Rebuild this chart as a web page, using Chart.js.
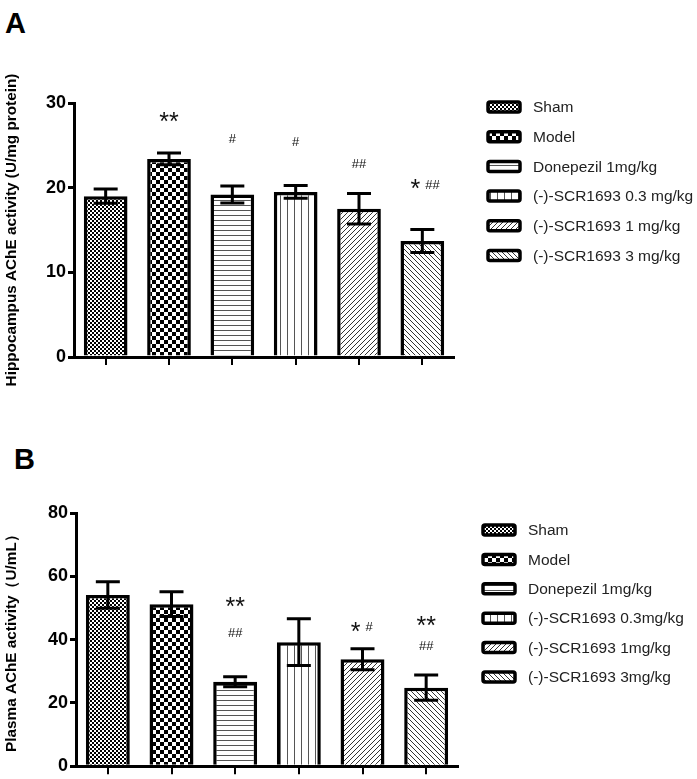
<!DOCTYPE html>
<html>
<head>
<meta charset="utf-8">
<script src="https://cdn.jsdelivr.net/npm/chart.js@4.4.1/dist/chart.umd.min.js"></script>
<style>
  body { margin: 0; background: #fff; width: 697px; height: 779px; position: relative; overflow: hidden;
         font-family: "Liberation Sans", Arial, sans-serif; }
  canvas { position: absolute; left: 0; }
  #chartA { top: 0; }
  #chartB { top: 390px; }
  .tag { position: absolute; font-weight: bold; font-size: 29px; color: #000; line-height: 1; }
</style>
</head>
<body>
<div class="tag" style="left:5px;top:9px">A</div>
<div class="tag" style="left:14px;top:445px">B</div>
<canvas id="chartA" width="697" height="405"></canvas>
<canvas id="chartB" width="697" height="389"></canvas>
<script>
// --- data
const groupsA = ['Sham', 'Model', 'Donepezil 1mg/kg', '(-)-SCR1693 0.3 mg/kg', '(-)-SCR1693 1 mg/kg', '(-)-SCR1693 3 mg/kg'];
const groupsB = ['Sham', 'Model', 'Donepezil 1mg/kg', '(-)-SCR1693 0.3mg/kg', '(-)-SCR1693 1mg/kg', '(-)-SCR1693 3mg/kg'];

const hippoMean = [19.0, 23.4, 19.2, 19.5, 17.5, 13.7];
const hippoSem  = [0.85, 0.7, 1.0, 0.75, 1.8, 1.35];
const plasmaMean = [54.1, 51.2, 26.7, 39.2, 33.8, 24.8];
const plasmaSem  = [4.2, 3.9, 1.6, 7.4, 3.3, 4.0];

const ticksA = [0, 10, 20, 30];
const ticksB = [0, 20, 40, 60, 80];

const titleA = 'Hippocampus AChE activity (U/mg protein)';
const titleB = 'Plasma AChE activity\uFF08U/mL\uFF09';

// significance marks, height in axis units
const starsA  = ['', '**', '', '', '', '*'];
const starsAy = [null, 28.3, null, null, null, 20.4];
const hashA   = ['', '', '#', '#', '##', '##'];
const hashAy  = [null, null, 25.8, 25.5, 22.9, 20.4];

const starsB  = ['', '', '**', '', '*', '**'];
const starsBy = [null, null, 52.0, null, 44.0, 46.0];
const hashB   = ['', '', '##', '', '#', '##'];
const hashBy  = [null, null, 42.4, null, 44.0, 38.0];

// --- fill patterns (one per group)
const patternKinds = ['fineCheck', 'check', 'hLines', 'vLines', 'diagUp', 'diagDown'];

function makePattern(kind) {
  const c = document.createElement('canvas');
  const g = c.getContext('2d');
  let s = 4;
  if (kind === 'check') s = 8;
  if (kind === 'hLines') s = 5;
  if (kind === 'vLines') s = 7;
  if (kind === 'diagUp' || kind === 'diagDown') s = 5;
  c.width = c.height = s;
  g.fillStyle = '#fff';
  g.fillRect(0, 0, s, s);
  g.fillStyle = '#000';
  g.strokeStyle = '#333';
  g.lineWidth = 1;
  if (kind === 'fineCheck' || kind === 'check') {
    const h = s / 2;
    g.fillRect(0, 0, h, h);
    g.fillRect(h, h, h, h);
  } else if (kind === 'hLines') {
    g.fillStyle = '#555';
    g.fillRect(0, 0, s, 1);
  } else if (kind === 'vLines') {
    g.fillStyle = '#555';
    g.fillRect(0, 0, 1, s);
  } else if (kind === 'diagUp') {
    g.beginPath();
    g.moveTo(-1, s + 1); g.lineTo(s + 1, -1);
    g.moveTo(-1, 1); g.lineTo(1, -1);
    g.moveTo(s - 1, s + 1); g.lineTo(s + 1, s - 1);
    g.stroke();
  } else if (kind === 'diagDown') {
    g.beginPath();
    g.moveTo(-1, -1); g.lineTo(s + 1, s + 1);
    g.moveTo(s - 1, -1); g.lineTo(s + 1, 1);
    g.moveTo(-1, s - 1); g.lineTo(1, s + 1);
    g.stroke();
  }
  return g.createPattern(c, 'repeat');
}

// --- plugins
const errorBars = {
  id: 'errorBars',
  afterDatasetsDraw(chart, args, opts) {
    const ctx = chart.ctx, y = chart.scales.y;
    ctx.save();
    ctx.strokeStyle = '#000';
    ctx.lineWidth = 3;
    chart.data.datasets.forEach((ds, i) => {
      const bar = chart.getDatasetMeta(i).data[i];
      if (!bar) return;
      const m = opts.mean[i], e = opts.sem[i];
      const yt = y.getPixelForValue(m + e), yb = y.getPixelForValue(m - e);
      const half = 12;
      ctx.beginPath();
      ctx.moveTo(bar.x, yt); ctx.lineTo(bar.x, yb);
      ctx.moveTo(bar.x - half, yt); ctx.lineTo(bar.x + half, yt);
      ctx.moveTo(bar.x - half, yb); ctx.lineTo(bar.x + half, yb);
      ctx.stroke();
    });
    ctx.restore();
  }
};

function drawMark(ctx, text, font, cx, cy, align) {
  ctx.font = font;
  ctx.textAlign = align;
  ctx.textBaseline = 'alphabetic';
  const m = ctx.measureText(text);
  const base = cy + (m.actualBoundingBoxAscent - m.actualBoundingBoxDescent) / 2;
  ctx.fillText(text, cx, base);
}

const sigMarks = {
  id: 'sigMarks',
  afterDraw(chart, args, opts) {
    const ctx = chart.ctx, x = chart.scales.x, y = chart.scales.y;
    const starFont = '25px "Liberation Sans", Arial, sans-serif';
    const hashFont = '13px "Liberation Sans", Arial, sans-serif';
    ctx.save();
    ctx.fillStyle = '#111';
    opts.stars.forEach((st, i) => {
      const hs = opts.hash[i];
      const cx = x.getPixelForValue(i);
      if (st && hs && opts.starsY[i] === opts.hashY[i]) {
        const cy = y.getPixelForValue(opts.starsY[i]);
        drawMark(ctx, st, starFont, cx - 2, cy, 'right');
        drawMark(ctx, hs, hashFont, cx + 3, cy, 'left');
        return;
      }
      if (st) drawMark(ctx, st, starFont, cx, y.getPixelForValue(opts.starsY[i]), 'center');
      if (hs) drawMark(ctx, hs, hashFont, cx, y.getPixelForValue(opts.hashY[i]), 'center');
    });
    ctx.restore();
  }
};

const sideLegend = {
  id: 'sideLegend',
  afterDraw(chart, args, opts) {
    const ctx = chart.ctx;
    ctx.save();
    chart.data.datasets.forEach((ds, i) => {
      const cy = opts.y + i * opts.gap;
      ctx.beginPath();
      ctx.roundRect(opts.x, cy - 5, 32, 10, 2);
      ctx.fillStyle = ds.backgroundColor;
      ctx.fill();
      ctx.lineWidth = 3.5;
      ctx.strokeStyle = '#000';
      ctx.stroke();
      ctx.fillStyle = '#222';
      ctx.font = '15.5px "Liberation Sans", Arial, sans-serif';
      ctx.textAlign = 'left';
      ctx.textBaseline = 'middle';
      ctx.fillText(ds.label, opts.x + 45, cy + 1);
    });
    ctx.restore();
  }
};

// --- chart builder
function buildChart(id, groups, mean, sem, ticks, title, marks, geo) {
  const datasets = groups.map((g, i) => ({
    label: g,
    data: groups.map((_, j) => (j === i ? mean[i] : null)),
    backgroundColor: makePattern(patternKinds[i]),
    borderColor: '#000',
    borderWidth: 3.5,
    skipNull: true,
    barPercentage: 0.69,
    categoryPercentage: 1
  }));

  return new Chart(document.getElementById(id), {
    type: 'bar',
    data: { labels: groups, datasets },
    plugins: [errorBars, sigMarks, sideLegend],
    options: {
      responsive: false,
      animation: false,
      layout: { padding: { left: 0, right: geo.padRight, top: geo.padTop, bottom: geo.padBottom } },
      plugins: {
        legend: { display: false },
        tooltip: { enabled: false },
        errorBars: { mean, sem },
        sigMarks: marks,
        sideLegend: geo.legend
      },
      scales: {
        x: {
          ticks: { display: false },
          grid: { drawOnChartArea: false, offset: false, tickLength: 8, lineWidth: 2, color: '#000' },
          border: { color: '#000', width: 3 },
          afterFit: s => { s.height = geo.xHeight; }
        },
        y: {
          min: ticks[0],
          max: ticks[ticks.length - 1],
          afterBuildTicks: s => { s.ticks = ticks.map(v => ({ value: v })); },
          ticks: { color: '#000', padding: 2, font: { size: 18, weight: 'bold' } },
          grid: { drawOnChartArea: false, tickLength: 6, lineWidth: 3, color: '#000' },
          border: { color: '#000', width: 3 },
          title: { display: true, text: title, color: '#000', padding: { top: 3, bottom: 0 },
                   font: { size: 15.3, weight: 'bold' } },
          afterFit: s => { s.width = geo.yWidth; }
        }
      }
    }
  });
}

Chart.defaults.font.family = '"Liberation Sans", Arial, sans-serif';

window.addEventListener('DOMContentLoaded', () => {
  buildChart('chartA', groupsA, hippoMean, hippoSem, ticksA, titleA,
    { stars: starsA, starsY: starsAy, hash: hashA, hashY: hashAy },
    { padRight: 243, padTop: 103, padBottom: 36, xHeight: 12, yWidth: 74,
      legend: { x: 488, y: 107, gap: 29.7 } });

  buildChart('chartB', groupsB, plasmaMean, plasmaSem, ticksB, titleB,
    { stars: starsB, starsY: starsBy, hash: hashB, hashY: hashBy },
    { padRight: 239, padTop: 123, padBottom: 2, xHeight: 9, yWidth: 76,
      legend: { x: 483, y: 140, gap: 29.4 } });
});
</script>
</body>
</html>
